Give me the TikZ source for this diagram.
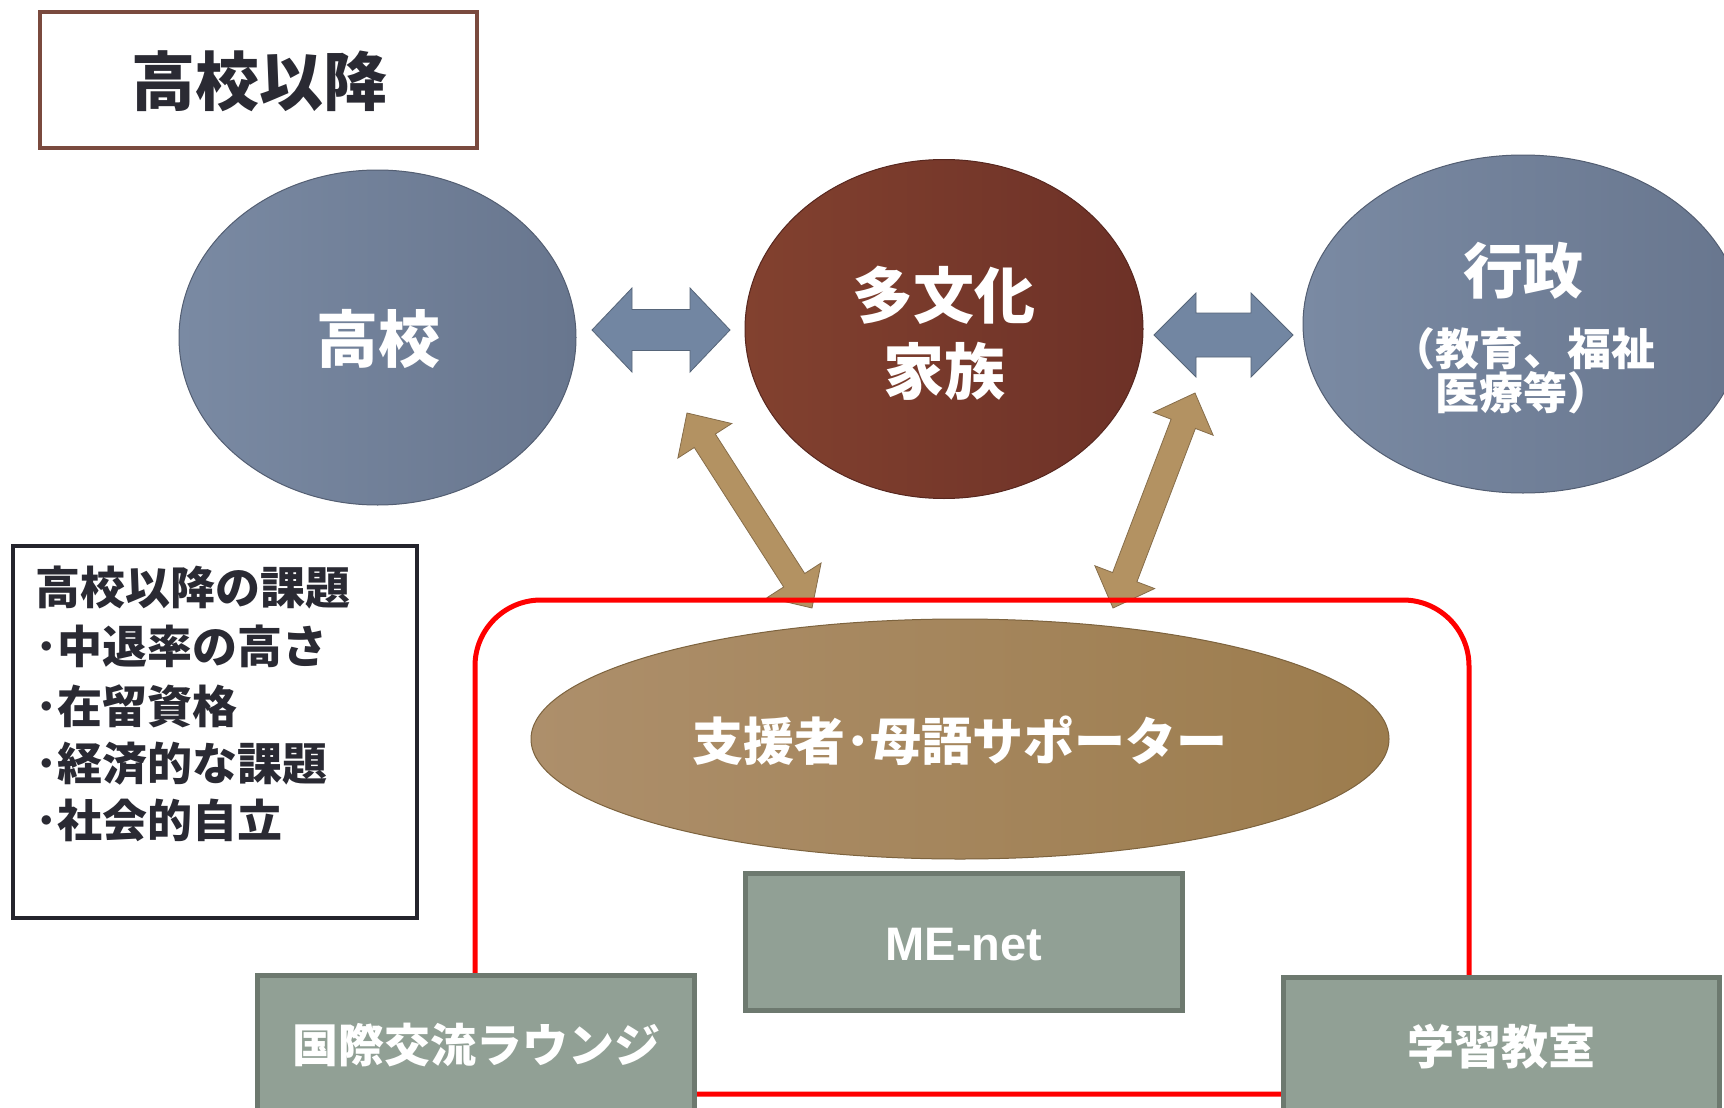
\documentclass[tikz,border=0pt]{standalone}
\usepackage{fontspec}
\setmainfont{Noto Sans CJK JP}
\newfontfamily\libsans{Liberation Sans}
\usetikzlibrary{shapes.geometric,calc}
\definecolor{bluegA}{HTML}{7A8AA3}
\definecolor{bluegB}{HTML}{68768E}
\definecolor{redA}{HTML}{82412F}
\definecolor{redB}{HTML}{6D3127}
\definecolor{tanA}{HTML}{AD8F6B}
\definecolor{tanM}{HTML}{B08A58}
\definecolor{tanB}{HTML}{9C7C4D}
\definecolor{arrowtan}{HTML}{B39262}
\definecolor{arrowblue}{HTML}{7286A2}
\definecolor{boxfill}{HTML}{91A095}
\definecolor{boxedge}{HTML}{6D796F}
\definecolor{titlebrown}{HTML}{7A4A3E}
\definecolor{darktext}{HTML}{2A2A33}
\definecolor{issueedge}{HTML}{24242C}
\newcommand\blockarrow[6]{%
  \fill[#6] (#1)
    -- ($(#1)!#3!(#2)!#4!90:(#2)$)
    -- ($(#1)!#3!(#2)!#5!90:(#2)$)
    -- ($(#2)!#3!(#1)!#5!-90:(#1)$)
    -- ($(#2)!#3!(#1)!#4!-90:(#1)$)
    -- (#2)
    -- ($(#2)!#3!(#1)!#4!90:(#1)$)
    -- ($(#2)!#3!(#1)!#5!90:(#1)$)
    -- ($(#1)!#3!(#2)!#5!-90:(#2)$)
    -- ($(#1)!#3!(#2)!#4!-90:(#2)$)
    -- cycle;}
\begin{document}
\begin{tikzpicture}[x=1pt,y=-1pt,
  ellbase/.style={ellipse, inner sep=0pt, outer sep=0pt, line width=1pt},
  gbox/.style={rectangle, fill=boxfill, draw=boxedge, line width=5pt, inner sep=0pt, outer sep=0pt},
  wtxt/.style={text=white, inner sep=0pt, anchor=base, font=\bfseries},
  dtxt/.style={text=darktext, inner sep=0pt, anchor=base west, font=\bfseries},
  barrow/.style={fill=arrowblue, draw=arrowblue!75!black, line width=0.8pt},
  tarrow/.style={fill=arrowtan, draw=arrowtan!75!black, line width=0.8pt}]
\useasboundingbox (0,0) rectangle (1724,1108);
\clip (0,0) rectangle (1724,1108);
\fill[white] (0,0) rectangle (1724,1108);

% title
\node[draw=titlebrown, line width=4.5pt, minimum width=437pt, minimum height=136pt,
      anchor=north west, inner sep=0pt, outer sep=0pt] (titlebox) at (40,12) {};
\node[dtxt, anchor=base] (titletxt) at (259,106) {\fontsize{64}{64}\selectfont 高校以降};

% top ellipses
\node[ellbase, left color=bluegA, right color=bluegB, draw=bluegB!80!black,
      minimum width=397pt, minimum height=335pt] (school) at (377.5,337.5) {};
\node[wtxt] (schooltxt) at (378,362) {\fontsize{62}{62}\selectfont 高校};

\node[ellbase, left color=redA, right color=redB, draw=redB!80!black,
      minimum width=398pt, minimum height=339pt] (family) at (944,329) {};
\node[wtxt] (familytxtA) at (944,318) {\fontsize{61}{61}\selectfont 多文化};
\node[wtxt] (familytxtB) at (944,394) {\fontsize{61}{61}\selectfont 家族};

\node[ellbase, left color=bluegA, right color=bluegB, draw=bluegB!80!black,
      minimum width=440pt, minimum height=338pt] (gov) at (1523,324) {};
\node[wtxt] (govtxtA) at (1523,293) {\fontsize{60}{60}\selectfont 行政};
\node[wtxt] (govtxtB) at (1523,365) {\fontsize{44}{44}\selectfont （教育、福祉};
\node[wtxt] (govtxtC) at (1523,409) {\fontsize{44}{44}\selectfont 医療等）};

% horizontal block arrows
\coordinate (ha1) at (592,330);
\coordinate (ha2) at (730,330);
\blockarrow{ha1}{ha2}{40pt}{42pt}{20.5pt}{barrow}
\coordinate (hb1) at (1154,335);
\coordinate (hb2) at (1293,335);
\blockarrow{hb1}{hb2}{42pt}{42pt}{22pt}{barrow}

% diagonal block arrows
\coordinate (da1) at (687,413);
\coordinate (da2) at (812,608);
\blockarrow{da1}{da2}{33pt}{32pt}{12.5pt}{tarrow}
\coordinate (db1) at (1195,393);
\coordinate (db2) at (1113,608);
\blockarrow{db1}{db2}{33pt}{32pt}{13pt}{tarrow}

% red frame
\draw[red, line width=5pt, rounded corners=66pt] (475,600) rectangle (1469,1094);

% supporter ellipse
\node[ellbase, left color=tanA, middle color=tanM, right color=tanB, draw=tanB!80!black,
      minimum width=858pt, minimum height=240pt] (support) at (960,739) {};
\node[wtxt] (supporttxt) at (960,760) {\fontsize{51}{51}\selectfont 支援者･母語サポーター};

% boxes
\node[gbox, minimum width=437pt, minimum height=137pt] (menet) at (963.5,941.5) {};
\node[wtxt] (menettxt) at (964,960) {\libsans\bfseries\fontsize{47}{47}\selectfont ME-net};

\node[gbox, minimum width=437pt, minimum height=150pt, anchor=north west] (lounge) at (257,975) {};
\node[wtxt] (loungetxt) at (476,1062) {\fontsize{46}{46}\selectfont 国際交流ラウンジ};

\node[gbox, minimum width=436pt, minimum height=150pt, anchor=north west] (classroom) at (1283,977) {};
\node[wtxt] (classroomtxt) at (1501,1064) {\fontsize{47}{47}\selectfont 学習教室};

% issues box
\node[draw=issueedge, line width=4pt, minimum width=404pt, minimum height=372pt,
      anchor=north west, inner sep=0pt, outer sep=0pt] (issuebox) at (13,546) {};
\node[dtxt] (iss1) at (35,604) {\fontsize{45}{45}\selectfont 高校以降の課題};
\node[dtxt] (iss2) at (35,663) {\fontsize{45}{45}\selectfont ･中退率の高さ};
\node[dtxt] (iss3) at (35,723) {\fontsize{45}{45}\selectfont ･在留資格};
\node[dtxt] (iss4) at (35,780) {\fontsize{45}{45}\selectfont ･経済的な課題};
\node[dtxt] (iss5) at (35,837) {\fontsize{45}{45}\selectfont ･社会的自立};
\end{tikzpicture}
\end{document}
